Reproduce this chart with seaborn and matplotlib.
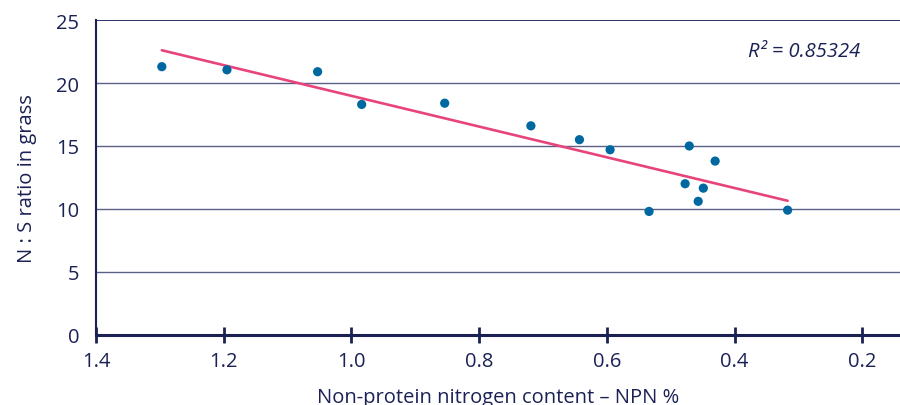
import matplotlib
matplotlib.use("Agg")
import matplotlib.pyplot as plt
import seaborn as sns
import pandas as pd

npn = [1.297, 1.195, 1.053, 0.984, 0.854, 0.719, 0.643, 0.595, 0.471, 0.4305,
       0.4775, 0.449, 0.457, 0.534, 0.317]
ns_ratio = [21.3, 21.05, 20.9, 18.3, 18.4, 16.6, 15.5, 14.7, 15.0, 13.8,
            12.0, 11.65, 10.6, 9.8, 9.9]
x_ticks = [1.4, 1.2, 1.0, 0.8, 0.6, 0.4, 0.2]
y_ticks = [0, 5, 10, 15, 20, 25]
r2_text = "R² = 0.85324"
x_label = "Non-protein nitrogen content – NPN %"
y_label = "N : S ratio in grass"

df = pd.DataFrame({"npn": npn, "ns": ns_ratio})

sns.set_theme(style="white")
plt.rcParams["font.family"] = ["Open Sans", "DejaVu Sans"]

navy = "#1b2155"
fig = plt.figure(figsize=(9, 4.06), dpi=100)
ax = fig.add_axes([0.1067, 0.173, 0.8933, 0.775])

sns.regplot(data=df, x="npn", y="ns", ax=ax, ci=None, truncate=True,
            scatter_kws=dict(s=44, color="#0068a0", edgecolor="none", alpha=1, zorder=3),
            line_kws=dict(color="#e8447c", linewidth=1.9, zorder=2))

ax.set_xlim(1.4, 0.141)
ax.set_ylim(0, 25)
ax.set_xticks(x_ticks)
ax.set_xticklabels([f"{v:.1f}" for v in x_ticks])
ax.set_yticks(y_ticks)

for v in y_ticks[1:]:
    ax.axhline(v, color=navy if v == 25 else "#5a6088",
               linewidth=1.0 if v < 25 else 1.3, zorder=1)

for side in ["top", "right"]:
    ax.spines[side].set_visible(False)
ax.spines["left"].set_color(navy)
ax.spines["left"].set_linewidth(1.5)
ax.spines["bottom"].set_color(navy)
ax.spines["bottom"].set_linewidth(2.2)

ax.tick_params(axis="x", direction="inout", length=12, width=2, color=navy,
               labelsize=14.5, labelcolor=navy, pad=6, bottom=True)
ax.tick_params(axis="y", length=0, labelsize=14.5, labelcolor=navy, pad=12, left=False)

ax.set_xlabel(x_label, fontsize=14.5, color=navy, labelpad=11)
ax.set_ylabel(y_label, fontsize=14.5, color=navy, labelpad=14)

ax.text(0.951, 0.901, r2_text, transform=ax.transAxes, fontsize=14.5,
        style="italic", color=navy, ha="right", va="center")

fig.savefig("out.png", dpi=100)
